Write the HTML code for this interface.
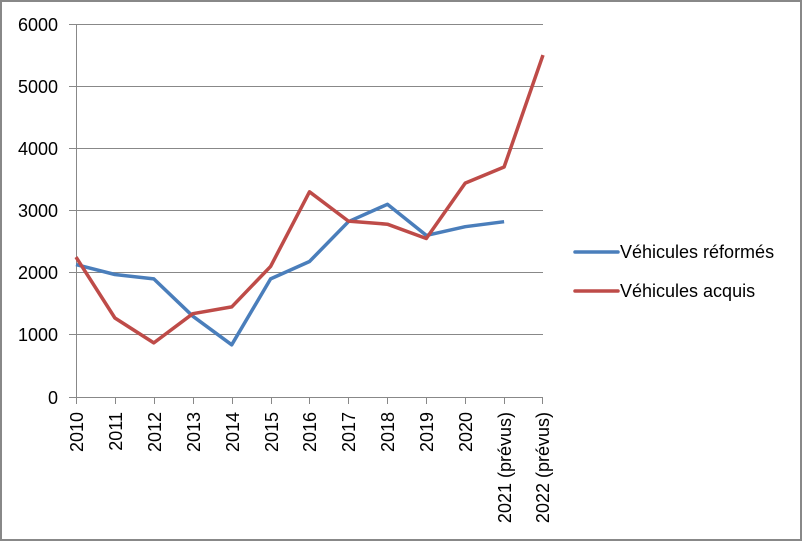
<!DOCTYPE html>
<html><head><meta charset="utf-8"><style>
body{margin:0;background:#fff}
svg{display:block}
text{font-family:"Liberation Sans",sans-serif;font-size:18px;fill:#000}
</style></head><body>
<svg width="804" height="542" viewBox="0 0 804 542">
<rect x="1" y="1" width="800" height="539" fill="#fff" stroke="#888" stroke-width="2"/>
<g stroke="#888" stroke-width="1">
<line x1="69" y1="24.5" x2="543" y2="24.5"/>
<line x1="69" y1="86.5" x2="543" y2="86.5"/>
<line x1="69" y1="148.5" x2="543" y2="148.5"/>
<line x1="69" y1="210.5" x2="543" y2="210.5"/>
<line x1="69" y1="272.5" x2="543" y2="272.5"/>
<line x1="69" y1="334.5" x2="543" y2="334.5"/>
<line x1="69" y1="397.5" x2="543" y2="397.5"/>
<line x1="76.5" y1="24" x2="76.5" y2="397"/>
</g>
<g stroke="#888" stroke-width="1">
<line x1="76.5" y1="397" x2="76.5" y2="404"/><line x1="115.5" y1="397" x2="115.5" y2="404"/><line x1="154.5" y1="397" x2="154.5" y2="404"/><line x1="193.5" y1="397" x2="193.5" y2="404"/><line x1="232.5" y1="397" x2="232.5" y2="404"/><line x1="271.5" y1="397" x2="271.5" y2="404"/><line x1="309.5" y1="397" x2="309.5" y2="404"/><line x1="348.5" y1="397" x2="348.5" y2="404"/><line x1="387.5" y1="397" x2="387.5" y2="404"/><line x1="426.5" y1="397" x2="426.5" y2="404"/><line x1="465.5" y1="397" x2="465.5" y2="404"/><line x1="504.5" y1="397" x2="504.5" y2="404"/><line x1="542.5" y1="397" x2="542.5" y2="404"/>
</g>
<g text-anchor="end">
<text x="58" y="31">6000</text><text x="58" y="93">5000</text><text x="58" y="155">4000</text><text x="58" y="217">3000</text><text x="58" y="279">2000</text><text x="58" y="341">1000</text><text x="58" y="404">0</text>
</g>
<g text-anchor="end">
<text transform="translate(83,412) rotate(-90)">2010</text>
<text transform="translate(122,412) rotate(-90)">2011</text>
<text transform="translate(161,412) rotate(-90)">2012</text>
<text transform="translate(200,412) rotate(-90)">2013</text>
<text transform="translate(239,412) rotate(-90)">2014</text>
<text transform="translate(278,412) rotate(-90)">2015</text>
<text transform="translate(316,412) rotate(-90)">2016</text>
<text transform="translate(355,412) rotate(-90)">2017</text>
<text transform="translate(394,412) rotate(-90)">2018</text>
<text transform="translate(433,412) rotate(-90)">2019</text>
<text transform="translate(472,412) rotate(-90)">2020</text>
<text transform="translate(511,412) rotate(-90)">2021 (prévus)</text>
<text transform="translate(549,412) rotate(-90)">2022 (prévus)</text>
</g>
<polyline fill="none" stroke="#4a7ebb" stroke-width="3.5" stroke-linejoin="round" points="76,264.6 114.9,274.5 153.8,278.9 192.8,316.2 231.7,344.8 270.6,278.9 309.5,261.5 348.4,221.7 387.4,204.3 426.3,235.4 465.2,226.7 504.1,221.7"/>
<polyline fill="none" stroke="#be4b48" stroke-width="3.5" stroke-linejoin="round" points="76,257.1 114.9,318 153.8,342.9 192.8,313.7 231.7,306.9 270.6,266.4 309.5,191.8 348.4,221.1 387.4,224.2 426.3,238.5 465.2,183.1 504.1,167 543,55.1"/>
<line x1="575" y1="252" x2="618" y2="252" stroke="#4a7ebb" stroke-width="3.5" stroke-linecap="round"/>
<line x1="575" y1="291" x2="618" y2="291" stroke="#be4b48" stroke-width="3.5" stroke-linecap="round"/>
<text x="620" y="258">Véhicules réformés</text>
<text x="620" y="297">Véhicules acquis</text>
</svg>
</body></html>
